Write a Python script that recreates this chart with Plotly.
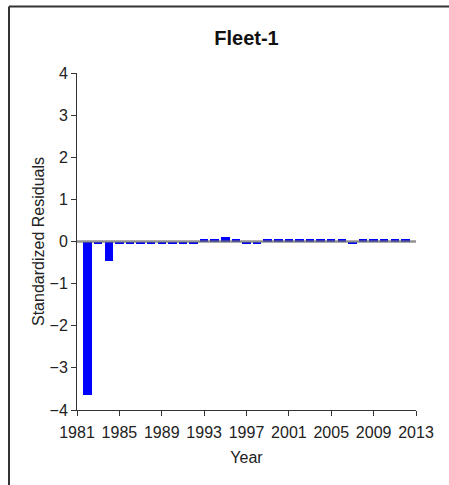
import plotly.graph_objects as go

# 标准化残差
years = list(range(1982, 2013))
residuals = [-3.65, -0.05, -0.47, -0.05, -0.05, -0.05, -0.05, -0.05, -0.05, -0.05, -0.05,
             0.06, 0.06, 0.1, 0.06, -0.05, -0.05, 0.06, 0.06, 0.06, 0.06, 0.06,
             0.06, 0.06, 0.06, -0.05, 0.06, 0.06, 0.06, 0.06, 0.06]
x_ticks = list(range(1981, 2014, 4))
y_ticks = list(range(-4, 5))

font = "Liberation Sans, Arial, sans-serif"

W, H = 449, 485
L, T = 77, 73
R, B = W - 416, H - 410
pw, ph = W - L - R, H - T - B

fig = go.Figure()
fig.add_trace(go.Bar(x=years, y=residuals, width=0.8, marker=dict(color="#0000ff", line_width=0),
                     showlegend=False, hoverinfo="skip"))

# 零线
fig.add_shape(type="line", xref="paper", yref="y", x0=0, x1=1, y0=0, y1=0,
              line=dict(color="rgba(110,110,110,0.75)", width=2.5), layer="above")

# 外框（只露出左边和上边）
top = (T + ph - 6.5) / ph
left = (9 - L) / pw
fig.add_shape(type="line", xref="paper", yref="paper", x0=left, x1=(W - L) / pw, y0=top, y1=top,
              line=dict(color="#333", width=2), layer="above")
fig.add_shape(type="line", xref="paper", yref="paper", x0=left, x1=left, y0=top, y1=-B / ph,
              line=dict(color="#333", width=2), layer="above")

fig.update_layout(
    width=W, height=H,
    margin=dict(l=L, r=R, t=T, b=B, autoexpand=False),
    plot_bgcolor="white", paper_bgcolor="white",
    font=dict(family=font, color="#222", size=16),
    title=dict(text="<b>Fleet-1</b>", x=246.5 / W, xanchor="center",
               y=1 - 38 / H, yanchor="middle", font=dict(size=20, color="#111")),
    bargap=0,
)
fig.update_xaxes(range=[1981, 2013], tickvals=x_ticks, ticks="outside", ticklen=5,
                 showline=True, linecolor="#333", linewidth=1, tickcolor="#333",
                 showgrid=False, zeroline=False, automargin=False, ticklabelstandoff=3,
                 title=dict(text="Year", font=dict(size=16), standoff=11))
fig.update_yaxes(range=[-4, 4], tickvals=y_ticks, ticks="outside", ticklen=5,
                 showline=True, linecolor="#333", linewidth=1, tickcolor="#333",
                 showgrid=False, zeroline=False, automargin=False,
                 title=dict(text="Standardized Residuals", font=dict(size=16), standoff=0))

# 去掉页面默认的 8px 边距，隐藏工具栏
fig.write_html("out.html", config={"displayModeBar": False},
               post_script="document.body.style.margin='0';document.body.style.overflow='hidden';")
